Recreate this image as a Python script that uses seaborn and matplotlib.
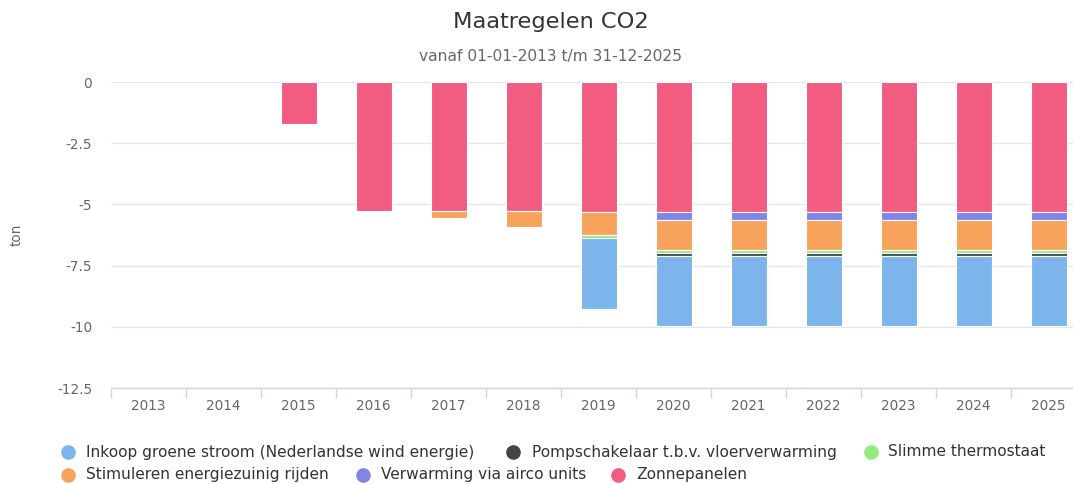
import numpy as np
import pandas as pd
import matplotlib
matplotlib.use("Agg")
import matplotlib.pyplot as plt
from matplotlib.lines import Line2D
import seaborn as sns

years = ["2013", "2014", "2015", "2016", "2017", "2018", "2019",
         "2020", "2021", "2022", "2023", "2024", "2025"]

zonnepanelen = [0, 0, -1.7, -5.27, -5.27, -5.27, -5.3, -5.3, -5.3, -5.3, -5.3, -5.3, -5.3]
verwarming_airco = [0, 0, 0, 0, 0, 0, 0, -0.33, -0.33, -0.33, -0.33, -0.33, -0.33]
stimuleren_rijden = [0, 0, 0, 0, -0.3, -0.65, -0.95, -1.22, -1.22, -1.22, -1.22, -1.22, -1.22]
slimme_thermostaat = [0, 0, 0, 0, 0, 0, -0.12, -0.12, -0.12, -0.12, -0.12, -0.12, -0.12]
pompschakelaar = [0, 0, 0, 0, 0, 0, 0, -0.15, -0.15, -0.15, -0.15, -0.15, -0.15]
inkoop_groene_stroom = [0, 0, 0, 0, 0, 0, -2.9, -2.86, -2.86, -2.86, -2.86, -2.86, -2.86]

series_names = [
    "Inkoop groene stroom (Nederlandse wind energie)",
    "Pompschakelaar t.b.v. vloerverwarming",
    "Slimme thermostaat",
    "Stimuleren energiezuinig rijden",
    "Verwarming via airco units",
    "Zonnepanelen",
]
colors = {
    "Inkoop groene stroom (Nederlandse wind energie)": "#7cb5ec",
    "Pompschakelaar t.b.v. vloerverwarming": "#434348",
    "Slimme thermostaat": "#90ed7d",
    "Stimuleren energiezuinig rijden": "#f7a35c",
    "Verwarming via airco units": "#8085e9",
    "Zonnepanelen": "#f15c80",
}
values = {
    "Inkoop groene stroom (Nederlandse wind energie)": inkoop_groene_stroom,
    "Pompschakelaar t.b.v. vloerverwarming": pompschakelaar,
    "Slimme thermostaat": slimme_thermostaat,
    "Stimuleren energiezuinig rijden": stimuleren_rijden,
    "Verwarming via airco units": verwarming_airco,
    "Zonnepanelen": zonnepanelen,
}
stack_order = series_names[::-1]  # Zonnepanelen closest to 0

sns.set_theme(style="white")
plt.rcParams["font.family"] = ["DejaVu Sans"]
plt.rcParams["axes.unicode_minus"] = False

W, H = 1073, 484
fig = plt.figure(figsize=(W / 100, H / 100), dpi=100)
ax = fig.add_axes([111 / W, (H - 388) / H, 975 / W, 306 / H])

bottom = np.zeros(len(years))
for name in stack_order:
    v = np.array(values[name], dtype=float)
    sns.barplot(x=years, y=v, bottom=bottom, color=colors[name], width=0.48,
                edgecolor="white", linewidth=0.8, saturation=1, errorbar=None, ax=ax)
    bottom = bottom + v

for p in list(ax.patches):
    if abs(p.get_height()) < 1e-9:
        p.remove()

ax.set_ylim(-12.5, 0)
ax.set_xlim(-0.5, len(years) - 0.5)
ax.set_yticks([0, -2.5, -5, -7.5, -10, -12.5])
ax.set_yticklabels(["0", "-2.5", "-5", "-7.5", "-10", "-12.5"])
ax.yaxis.grid(True, color="#e6e6e6", linewidth=1)
ax.xaxis.grid(False)
ax.set_axisbelow(True)
for s in ["top", "right", "left"]:
    ax.spines[s].set_visible(False)
ax.spines["bottom"].set_color("#ccd6eb")
ax.spines["bottom"].set_linewidth(1)
ax.tick_params(axis="y", length=0, pad=13.5, labelsize=9.8, labelcolor="#666666")
ax.tick_params(axis="x", which="major", bottom=False, length=0, pad=8, labelsize=9.8,
               labelcolor="#666666")
ax.set_xticks(np.arange(-0.5, len(years) + 0.5, 1), minor=True)
ax.tick_params(axis="x", which="minor", bottom=True, length=7, width=1, color="#ccd6eb",
               direction="out", labelbottom=False)
ax.set_xlabel("")
ax.set_ylabel("")
fig.text(17 / W, 1 - 235 / H, "ton", rotation=90, ha="center", va="center",
         fontsize=9.8, color="#666666")

fig.text(551 / W, 1 - 22 / H, "Maatregelen CO2", ha="center", va="center",
         fontsize=16.2, color="#333333")
fig.text(551 / W, 1 - 56 / H, "vanaf 01-01-2013 t/m 31-12-2025", ha="center", va="center",
         fontsize=11.2, color="#666666")

legend_pos = [
    (68, 452, 86), (513, 452, 532), (871, 452, 888),
    (68, 475, 86), (363, 475, 381), (618, 475, 636),
]
for name, (mx, my, tx) in zip(series_names, legend_pos):
    fig.add_artist(Line2D([mx / W], [1 - my / H], marker="o", markersize=9.5,
                          color=colors[name], linestyle="none", transform=fig.transFigure))
    fig.text(tx / W, 1 - my / H, name, ha="left", va="center", fontsize=11.1, color="#333333")

fig.savefig("out.png", dpi=100)
